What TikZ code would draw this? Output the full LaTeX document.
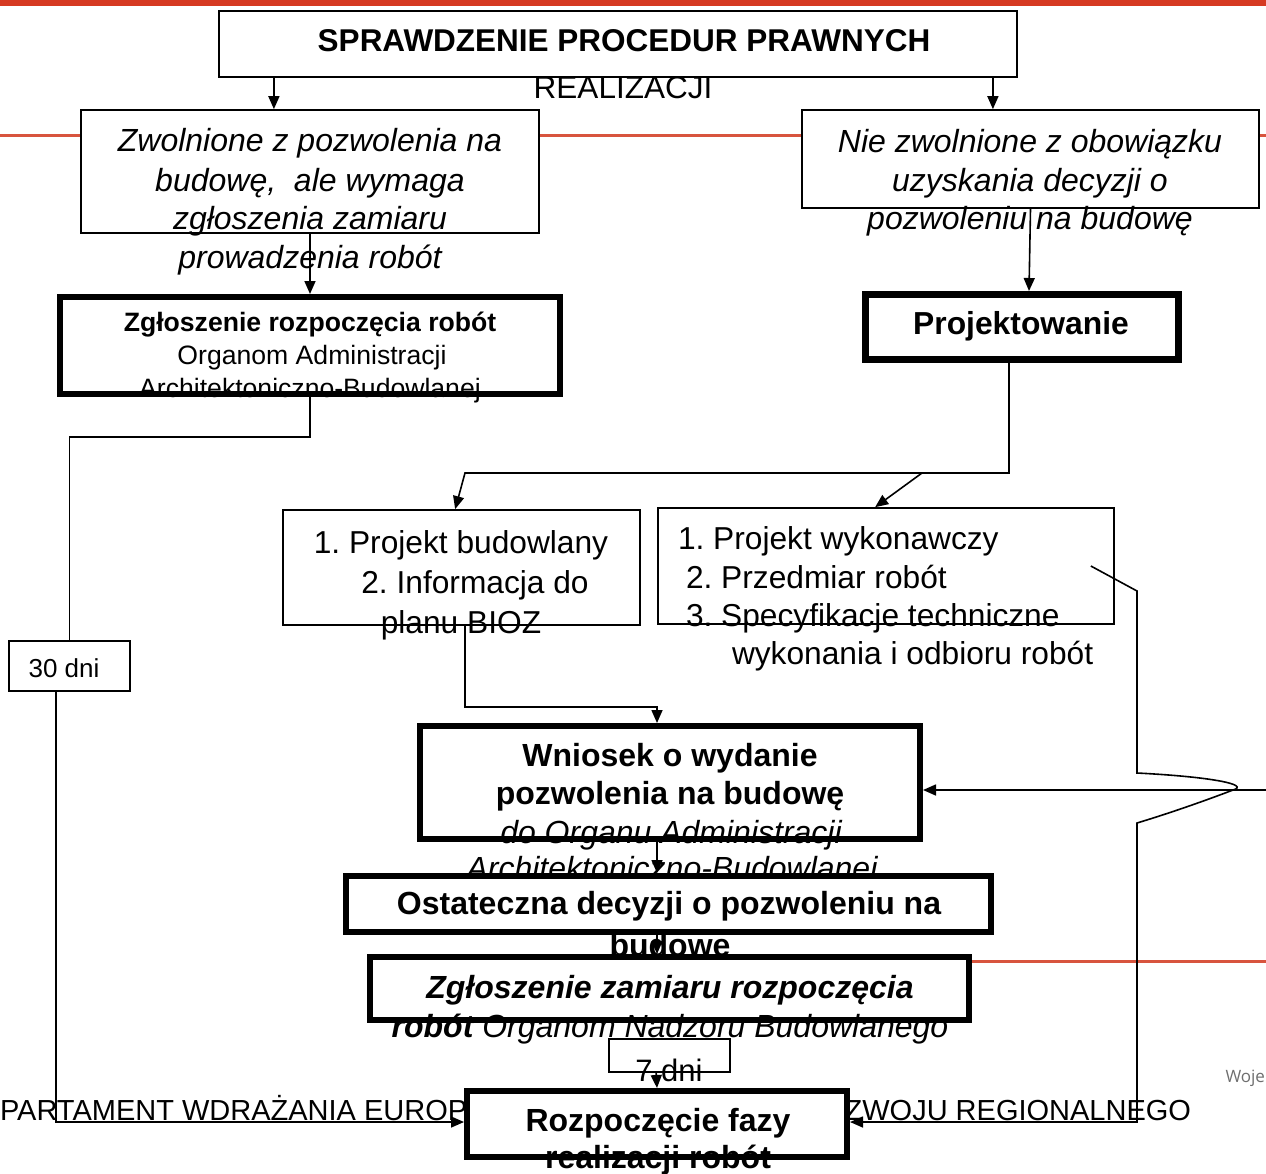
\documentclass[tikz,border=0pt]{standalone}
\usepackage{fontspec}
\setmainfont{Liberation Sans}
\newfontfamily\wojefont{Open Sans}
\usetikzlibrary{arrows.meta}
\definecolor{barred}{RGB}{214,58,34}
\definecolor{linered}{RGB}{216,84,62}
\definecolor{footgray}{RGB}{110,110,110}
\newcommand\myfs[1]{\fontsize{#1}{#1}\selectfont}
\frenchspacing
\begin{document}
\frenchspacing
\begin{tikzpicture}[x=1pt,y=-1pt,
  thinbox/.style={draw, line width=1.7pt, fill=white, inner sep=0pt},
  thickbox/.style={draw, line width=6pt, fill=white, inner sep=0pt},
  txt/.style={anchor=base, inner sep=0pt, outer sep=0pt},
  con/.style={line width=1.6pt},
  arr/.style={line width=1.6pt, -{Triangle[length=13pt,width=11pt]}},
  redline/.style={linered, line width=3pt}]
\useasboundingbox (0,0) rectangle (1266,1173);
% decorations of the slide
\fill[barred] (0,0) rectangle (1266,5.5);
\draw[redline] (0,135) -- (1266,135);
\draw[redline] (600,961) -- (1266,961);

% title
\node[thinbox, minimum width=798pt, minimum height=66pt] (title) at (618,44) {};
\node[txt, font=\myfs{31.5}\bfseries] (t1) at (624,51) {SPRAWDZENIE PROCEDUR PRAWNYCH};
\node[txt, font=\myfs{31.5}] (t2) at (623,98) {REALIZACJI};

% left branch box
\node[thinbox, minimum width=458pt, minimum height=123pt] (zw) at (310,171.5) {};
\node[txt, font=\myfs{32}\itshape] (zw1) at (310,151) {Zwolnione z pozwolenia na};
\node[txt, font=\myfs{32}\itshape] (zw2) at (310,191) {budowę,\ \ ale wymaga};
\node[txt, font=\myfs{32}\itshape] (zw3) at (310,229) {zgłoszenia zamiaru};
\node[txt, font=\myfs{32}\itshape] (zw4) at (310,268) {prowadzenia robót};

% right branch box
\node[thinbox, minimum width=457pt, minimum height=98pt] (nz) at (1030.5,159) {};
\node[txt, font=\myfs{32}\itshape] (nz1) at (1030,152) {Nie zwolnione z obowiązku};
\node[txt, font=\myfs{32}\itshape] (nz2) at (1030,191) {uzyskania decyzji o};
\node[txt, font=\myfs{32}\itshape] (nz3) at (1030,229) {pozwoleniu na budowę};

% Zgloszenie rozpoczecia robot
\node[thickbox, minimum width=500pt, minimum height=97pt] (zgl) at (310,345.5) {};
\node[txt, font=\myfs{26.6}\bfseries] (zg1) at (310,331) {Zgłoszenie rozpoczęcia robót};
\node[txt, font=\myfs{26.6}] (zg2) at (312,364) {Organom Administracji};
\node[txt, font=\myfs{26.6}] (zg3) at (310,397) {Architektoniczno-Budowlanej};

% Projektowanie
\node[draw, line width=7pt, fill=white, inner sep=0pt, minimum width=313pt, minimum height=65pt] (proj) at (1022,327) {};
\node[txt, font=\myfs{31.8}\bfseries] (pj1) at (1021,334.5) {Projektowanie};

% Projekt budowlany
\node[thinbox, minimum width=357pt, minimum height=115pt] (pb) at (461.5,567.5) {};
\node[txt, font=\myfs{31.7}] (pb1) at (461,553) {1. Projekt budowlany};
\node[txt, font=\myfs{31.7}] (pb2) at (475,593) {2. Informacja do};
\node[txt, font=\myfs{31.7}] (pb3) at (461,633) {planu BIOZ};

% Projekt wykonawczy
\node[thinbox, minimum width=456pt, minimum height=116pt] (pw) at (886,566) {};
\node[txt, anchor=base west, font=\myfs{31.7}] (pw1) at (678,549) {1. Projekt wykonawczy};
\node[txt, anchor=base west, font=\myfs{31.7}] (pw2) at (686,588) {2. Przedmiar robót};
\node[txt, anchor=base west, font=\myfs{31.7}] (pw3) at (686,626) {3. Specyfikacje techniczne};
\node[txt, anchor=base west, font=\myfs{31.7}] (pw4) at (732,664) {wykonania i odbioru robót};

% 30 dni
\node[thinbox, minimum width=121pt, minimum height=50pt] (d30) at (69.5,666) {};
\node[txt, font=\myfs{26}] (d30t) at (64,677) {30 dni};

% Wniosek
\node[thickbox, minimum width=500pt, minimum height=113pt] (wn) at (670,782.5) {};
\node[txt, font=\myfs{32}\bfseries] (wn1) at (670,766.5) {Wniosek o wydanie};
\node[txt, font=\myfs{32}\bfseries] (wn2) at (670,804.5) {pozwolenia na budowę};
\node[txt, font=\myfs{32}\itshape] (wn3) at (671,843) {do Organu Administracji};
\node[txt, font=\myfs{32}\itshape] (wn4) at (672,879) {Architektoniczno-Budowlanej};

% Ostateczna decyzja
\node[thickbox, minimum width=645pt, minimum height=56pt] (ost) at (668.5,904) {};
\node[txt, font=\myfs{32}\bfseries] (os1) at (669,914) {Ostateczna decyzji o pozwoleniu na};
\node[txt, font=\myfs{32}\bfseries] (os2) at (670,956) {budowę};

% Zgloszenie zamiaru
\node[thickbox, minimum width=599pt, minimum height=63pt] (zz) at (669.5,988.5) {};
\node[txt, font=\myfs{32}\bfseries\itshape] (zz1) at (670,998) {Zgłoszenie zamiaru rozpoczęcia};
\node[txt, font=\myfs{32}\itshape] (zz2) at (670,1037) {{\bfseries robót} Organom Nadzoru Budowlanego};

% 7 dni
\node[thinbox, minimum width=121pt, minimum height=33pt] (d7) at (669.5,1055.5) {};
\node[txt, font=\myfs{31}] (d7t) at (669,1081) {7 dni};

% footer
\node[txt, anchor=base west, font=\myfs{29}] (ft1) at (0,1120) {PARTAMENT WDRAŻANIA EUROP};
\node[txt, anchor=base east, font=\myfs{29}] (ft2) at (1191,1120) {ZWOJU REGIONALNEGO};
\node[txt, anchor=base east, font=\wojefont\myfs{17}, text=footgray] (woje) at (1265,1082) {Woje};

% Rozpoczecie
\node[thickbox, minimum width=380pt, minimum height=66pt] (rz) at (657,1124) {};
\node[txt, font=\myfs{32}\bfseries] (rz1) at (658,1131) {Rozpoczęcie fazy};
\node[txt, font=\myfs{32}\bfseries] (rz2) at (658,1168) {realizacji robót};

% connectors
\draw[arr] ([xshift=55.75pt]title.south west) -- ([xshift=193.75pt]zw.north west);
\draw[arr] ([xshift=774.75pt]title.south west) -- ([xshift=191.75pt]nz.north west);
\draw[arr] (zw.south) -- (zgl.north);
\draw[arr] (nz.south) -- ([xshift=7pt]proj.north);
\draw[con] (zgl.south) -- ++(0,40) -| (d30.north);
\draw[arr] ([xshift=48pt]d30.south west) |- ([yshift=2pt]rz.west);
\draw[arr] ([xshift=-13pt]proj.south) -- ++(0,110) -- ++(-544,0) -- ([xshift=173pt]pb.north west);
\coordinate (split) at (922,473);
\draw[arr] (split) -- ([xshift=218pt]pw.north west);
\draw[arr] ([xshift=183pt]pb.south west) -- ++(0,81.25) -| ([xshift=240pt]wn.north west);
\draw[arr] ([xshift=240pt]wn.south west) -- ([xshift=314pt]ost.north west);
\draw[arr] ([xshift=314pt]ost.south west) -- ([xshift=290pt]zz.north west);
\draw[arr] ([xshift=48pt]d7.south west) -- (rz.north);
\draw[arr] ([xshift=-24pt]pw.east) -- (1137,591) -- (1137,773)
   .. controls (1215,777) and (1250,785) .. (1233,790)
   .. controls (1220,795) and (1180,810) .. (1137,823)
   |- ([yshift=2pt]rz.east);
\coordinate (rin) at (1270,790);
\draw[arr] (rin) -- ([yshift=-7.5pt]wn.east);
\end{tikzpicture}
\end{document}
